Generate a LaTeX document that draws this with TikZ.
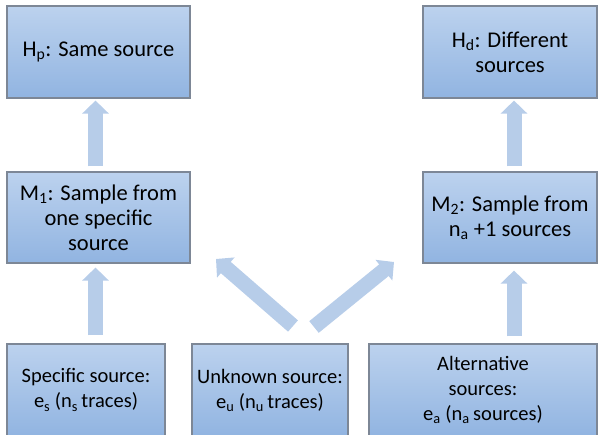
\documentclass[tikz,border=0pt]{standalone}
\usepackage{fontspec}
\setmainfont{Carlito}
\usetikzlibrary{arrows.meta,calc}
\definecolor{boxtop}{RGB}{188,210,238}
\definecolor{boxbot}{RGB}{145,180,225}
\definecolor{boxline}{RGB}{125,135,150}
\definecolor{arrowfill}{RGB}{183,205,233}
\tikzset{
  box/.style={draw=boxline, line width=1.2pt, top color=boxtop, bottom color=boxbot,
    align=center, inner sep=0pt, font=\fontsize{22.5}{25}\selectfont},
  lowbox/.style={box, font=\fontsize{20.5}{25}\selectfont},
  blockarrow/.style={draw=arrowfill, line width=15pt, line cap=butt,
    -{Triangle[width=26pt,length=13pt]}}
}
\begin{document}
\begin{tikzpicture}[x=1pt,y=-1pt]
\useasboundingbox (0,0) rectangle (599,435);
\node[box, minimum width=183pt, minimum height=92pt] (hp) at (98.5,52) {H\textsubscript{p}: Same source};
\node[box, minimum width=174pt, minimum height=92pt] (hd) at (510,52) {H\textsubscript{d}: Different\\sources};
\node[box, minimum width=183pt, minimum height=91pt] (m1) at (98.5,217.5) {M\textsubscript{1}: Sample from\\one specific\\source};
\node[box, minimum width=174pt, minimum height=91pt] (m2) at (510,217.5) {M\textsubscript{2}: Sample from\\n\textsubscript{a} +1 sources};
\node[lowbox, minimum width=158pt, minimum height=92pt] (spec) at (86,390) {Specific source:\\e\textsubscript{s} (n\textsubscript{s}\,traces)};
\node[lowbox, minimum width=156pt, minimum height=92pt] (unk) at (270,390) {Unknown source:\\e\textsubscript{u} (n\textsubscript{u}\,traces)};
\node[lowbox, minimum width=228pt, minimum height=92pt] (alt) at (483,390) {Alternative\\sources:\\e\textsubscript{a} (n\textsubscript{a}\,sources)};
% columns of the vertical block arrows
\coordinate (lc) at (95.5,0);
\coordinate (rc) at (514,0);
\draw[blockarrow] ($(m1.north -| lc)+(0,-5)$) -- ($(hp.south -| lc)+(0,2)$);
\draw[blockarrow] ($(spec.north -| lc)+(0,-8)$) -- ($(m1.south -| lc)+(0,4)$);
\draw[blockarrow] ($(m2.north -| rc)+(0,-5)$) -- ($(hd.south -| rc)+(0,2)$);
\draw[blockarrow] ($(alt.north -| rc)+(0,-7)$) -- ($(m2.south -| rc)+(0,7)$);
% diagonal block arrows
\coordinate (lt) at (293,326);
\coordinate (lh) at (216,259);
\coordinate (rt) at (314,327);
\coordinate (rh) at (394,262);
\draw[blockarrow] (lt) -- (lh);
\draw[blockarrow] (rt) -- (rh);
\end{tikzpicture}
\end{document}
